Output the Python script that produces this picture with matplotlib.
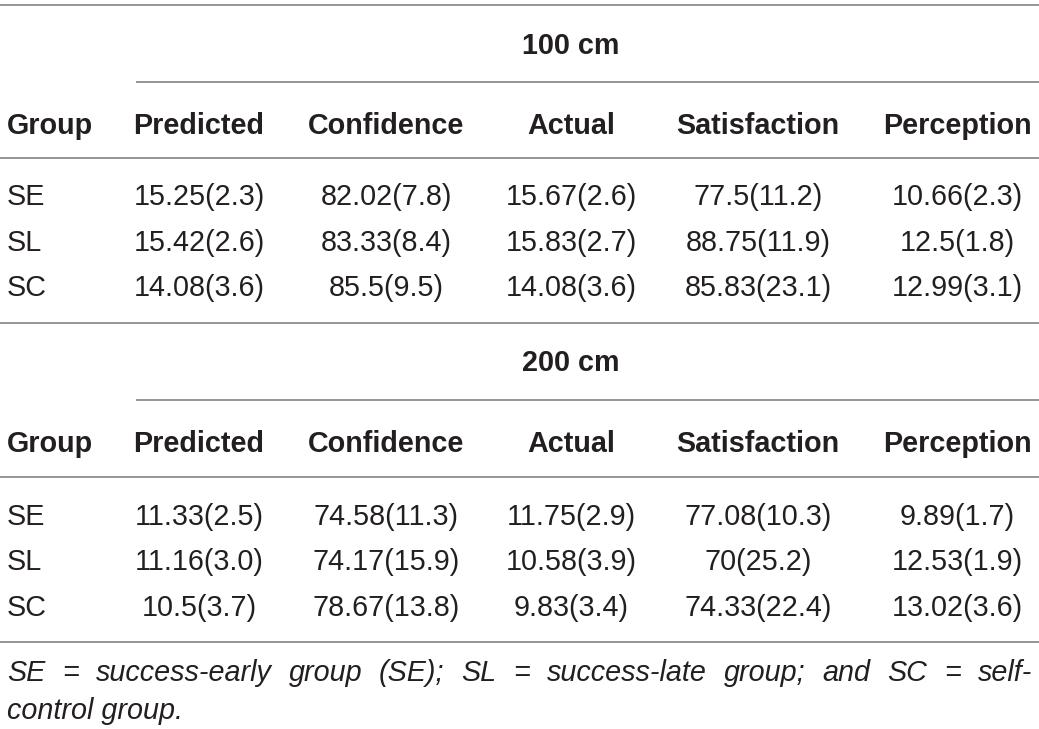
import matplotlib
matplotlib.use("Agg")
import matplotlib.pyplot as plt

columns = ["Group", "Predicted", "Confidence", "Actual", "Satisfaction", "Perception"]
groups = ["SE", "SL", "SC"]
title_100 = "100 cm"
title_200 = "200 cm"
values_100 = [
    ["15.25(2.3)", "82.02(7.8)", "15.67(2.6)", "77.5(11.2)", "10.66(2.3)"],
    ["15.42(2.6)", "83.33(8.4)", "15.83(2.7)", "88.75(11.9)", "12.5(1.8)"],
    ["14.08(3.6)", "85.5(9.5)", "14.08(3.6)", "85.83(23.1)", "12.99(3.1)"],
]
values_200 = [
    ["11.33(2.5)", "74.58(11.3)", "11.75(2.9)", "77.08(10.3)", "9.89(1.7)"],
    ["11.16(3.0)", "74.17(15.9)", "10.58(3.9)", "70(25.2)", "12.53(1.9)"],
    ["10.5(3.7)", "78.67(13.8)", "9.83(3.4)", "74.33(22.4)", "13.02(3.6)"],
]
footnote_line1 = "SE = success-early group (SE); SL = success-late group; and SC = self-"
footnote_line2 = "control group."

W, H = 1039, 729
fig = plt.figure(figsize=(W / 100, H / 100), dpi=100)
ax = fig.add_axes([0, 0, 1, 1])
ax.set_xlim(0, W)
ax.set_ylim(H, 0)
ax.axis("off")

FONT = "Liberation Sans"
FS = 20.7
TXT = "#231f20"
LINE = "#8c8c8c"
DY = 3
col_x = [7, 199, 386, 571, 758, 957]

def hline(y, x0=0, x1=W):
    ax.plot([x0, x1], [y, y], color=LINE, lw=1.3, solid_capstyle="butt")

def block(title, rows, y_title, y_line1, y_head, y_line2, y_rows):
    ax.text(571, y_title + DY, title, ha="center", va="center", fontsize=FS,
            fontweight="bold", family=FONT, color=TXT)
    hline(y_line1, 136, W)
    for i, c in enumerate(columns):
        ax.text(col_x[i], y_head + DY, c, ha="left" if i == 0 else "center", va="center",
                fontsize=FS, fontweight="bold", family=FONT, color=TXT)
    hline(y_line2)
    for r, (g, vals) in enumerate(zip(groups, rows)):
        y = y_rows[r] + DY
        ax.text(col_x[0], y, g, ha="left", va="center", fontsize=FS, family=FONT, color=TXT)
        for j, v in enumerate(vals):
            ax.text(col_x[j + 1], y, v, ha="center", va="center", fontsize=FS,
                    family=FONT, color=TXT)

hline(5)
block(title_100, values_100, 43, 82, 123, 158, [194, 240, 285])
hline(323)
block(title_200, values_200, 360, 400, 441, 477, [514, 559, 605])
hline(642)

# justified footnote line 1
fig.canvas.draw()
renderer = fig.canvas.get_renderer()
words = footnote_line1.split(" ")
arts = []
widths = []
for w in words:
    t = ax.text(0, 670 + DY, w, ha="left", va="center", fontsize=FS, style="italic",
                family=FONT, color=TXT)
    bb = t.get_window_extent(renderer)
    arts.append(t)
    widths.append(bb.width)
x0, x1 = 7, 1032
gap = (x1 - x0 - sum(widths)) / (len(words) - 1)
x = x0
for t, wd in zip(arts, widths):
    t.set_x(x)
    x += wd + gap
ax.text(7, 708 + DY, footnote_line2, ha="left", va="center", fontsize=FS, style="italic",
        family=FONT, color=TXT)

fig.savefig("out.png", dpi=100)
